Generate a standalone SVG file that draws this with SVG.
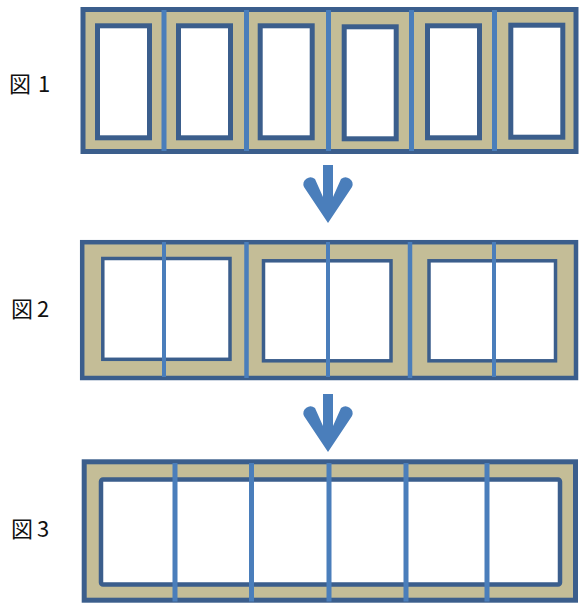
<svg xmlns="http://www.w3.org/2000/svg" width="579" height="603" viewBox="0 0 579 603">
<style>
.frame{fill:#C4BD97;stroke:#3B5E8C}
.win{fill:#FFFFFF;stroke:#3B5E8C}
.sep{stroke:#4A7EBB}
.arrow{fill:#4A7EBB}
.lbl{font-family:"Noto Sans CJK JP","Liberation Sans",sans-serif;font-size:22px;fill:#111111}
</style>
<rect width="579" height="603" fill="#FFFFFF"/>
<g id="label1"><text class="lbl" x="9" y="92">図<tspan x="38">1</tspan></text></g>
<g id="label2"><text class="lbl" x="11" y="317">図<tspan x="37">2</tspan></text></g>
<g id="label3"><text class="lbl" x="11" y="537">図<tspan x="37">3</tspan></text></g>

<g id="fig1">
<rect class="frame" x="83" y="9.5" width="493" height="142" stroke-width="5"/>
<g stroke-width="5">
<rect class="win" x="97.5" y="25.8" width="52" height="112"/>
<rect class="win" x="178.5" y="25.8" width="52" height="112"/>
<rect class="win" x="260.2" y="25.8" width="52" height="112"/>
<rect class="win" x="344.2" y="26.8" width="52" height="112"/>
<rect class="win" x="427.5" y="25.8" width="52" height="112"/>
<rect class="win" x="510.8" y="25.2" width="52" height="112"/>
</g>
<g class="sep" stroke-width="5">
<line x1="164" y1="10" x2="164" y2="151"/>
<line x1="246.5" y1="10" x2="246.5" y2="151"/>
<line x1="328.5" y1="10" x2="328.5" y2="151"/>
<line x1="411.5" y1="10" x2="411.5" y2="151"/>
<line x1="494.5" y1="10" x2="494.5" y2="151"/>
</g>
</g>

<g id="fig2">
<rect class="frame" x="82.2" y="242.2" width="493.8" height="135.8" stroke-width="4.5"/>
<g stroke-width="3.5">
<rect class="win" x="102.8" y="258.5" width="127.2" height="100.8"/>
<rect class="win" x="263.5" y="260.8" width="127.5" height="100"/>
<rect class="win" x="429" y="260.8" width="126.5" height="100"/>
</g>
<g class="sep" stroke-width="4.5">
<line x1="246.5" y1="242" x2="246.5" y2="378"/>
<line x1="410" y1="242" x2="410" y2="378"/>
</g>
<g class="sep" stroke-width="4" stroke="#5289C8">
<line x1="164" y1="242" x2="164" y2="377"/>
<line x1="328" y1="242" x2="328" y2="377"/>
<line x1="494" y1="242" x2="494" y2="377"/>
</g>
</g>

<g id="fig3">
<rect class="frame" x="84.2" y="461.8" width="491.3" height="138.4" stroke-width="5"/>
<rect class="win" x="101" y="479.5" width="459" height="105" rx="2" stroke-width="4.5"/>
<g class="sep" stroke-width="5">
<line x1="175" y1="463" x2="175" y2="601.5"/>
<line x1="251.5" y1="463" x2="251.5" y2="601.5"/>
<line x1="329" y1="463" x2="329" y2="601.5"/>
<line x1="406" y1="463" x2="406" y2="601.5"/>
<line x1="487" y1="463" x2="487" y2="601.5"/>
</g>
</g>

<g id="connectors">
<path class="arrow" d="M323,165 H333 V197 L341,179 A7,7 0 0 1 352,187 L328,223 L304,187 A7,7 0 0 1 315,179 L323,197 Z"/>
<path class="arrow" d="M323,394 H333 V426 L341,408 A7,7 0 0 1 352,416 L328,452 L304,416 A7,7 0 0 1 315,408 L323,426 Z"/>
</g>
</svg>
